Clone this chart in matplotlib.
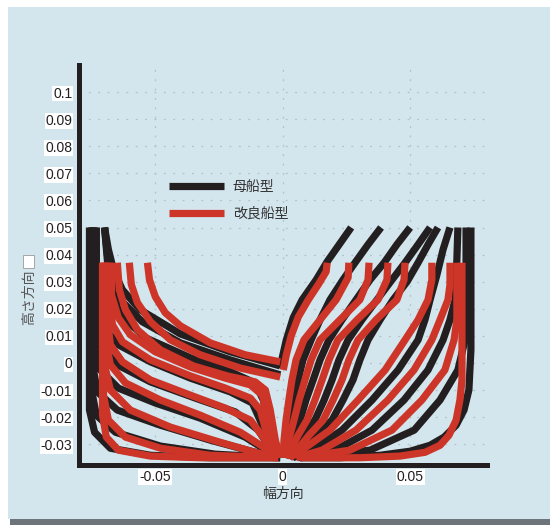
import matplotlib.pyplot as plt
from matplotlib.lines import Line2D
from matplotlib.patches import Rectangle

plt.rcParams['font.family'] = ['Liberation Sans', 'Noto Sans CJK JP']

# --- body plan data (half-breadth x, height z) ---
# stern side (left), parent hull
stern_parent_x = [
    [-0.0698, -0.0683, -0.0663, -0.0628, -0.0558, -0.0401, -0.0205, -0.0010],
    [-0.0698, -0.0687, -0.0671, -0.0636, -0.0550, -0.0401, -0.0205, -0.0010],
    [-0.0698, -0.0687, -0.0675, -0.0636, -0.0538, -0.0362, -0.0205, -0.0108, -0.0076, -0.0057, -0.0025],
    [-0.0730, -0.0730, -0.0710, -0.0644, -0.0518, -0.0362, -0.0205, -0.0119, -0.0080, -0.0029],
    [-0.0737, -0.0737, -0.0718, -0.0648, -0.0518, -0.0342, -0.0186, -0.0096, -0.0025],
    [-0.0741, -0.0741, -0.0722, -0.0644, -0.0499, -0.0323, -0.0147, -0.0018],
    [-0.0745, -0.0745, -0.0726, -0.0648, -0.0479, -0.0284, -0.0108, -0.0010],
    [-0.0749, -0.0749, -0.0730, -0.0655, -0.0479, -0.0264, -0.0010],
    [-0.0757, -0.0757, -0.0737, -0.0675, -0.0518, -0.0284, -0.0010],
]
stern_parent_z = [
    [0.050, 0.0419, 0.0344, 0.0270, 0.0196, 0.0107, 0.0041, -0.0011],
    [0.050, 0.0400, 0.0307, 0.0233, 0.0152, 0.0074, 0.0011, -0.0044],
    [0.050, 0.0381, 0.0270, 0.0178, 0.0093, 0.0019, -0.0033, -0.0074, -0.0137, -0.0230, -0.035],
    [0.050, 0.0233, 0.0141, 0.0067, 0.0004, -0.0056, -0.0107, -0.0148, -0.0230, -0.035],
    [0.050, 0.0159, 0.0067, -0.0007, -0.0070, -0.0130, -0.0181, -0.0248, -0.035],
    [0.050, 0.0085, -0.0019, -0.0093, -0.0148, -0.0204, -0.0274, -0.035],
    [0.050, -0.0007, -0.0107, -0.0174, -0.0230, -0.0285, -0.0330, -0.035],
    [0.050, -0.0100, -0.0193, -0.0256, -0.0307, -0.0337, -0.035],
    [0.050, -0.0174, -0.0256, -0.0315, -0.0341, -0.035, -0.035],
]

# stern side (left), improved hull
stern_new_x = [
    [-0.0530, -0.0522, -0.0499, -0.0460, -0.0401, -0.0284, -0.0147, -0.0010],
    [-0.0601, -0.0593, -0.0569, -0.0518, -0.0440, -0.0323, -0.0166, -0.0010],
    [-0.0648, -0.0640, -0.0616, -0.0569, -0.0479, -0.0350, -0.0217, -0.0108, -0.0068, -0.0049, -0.0029, -0.0010],
    [-0.0671, -0.0671, -0.0644, -0.0597, -0.0499, -0.0362, -0.0225, -0.0127, -0.0080, -0.0057, -0.0033, -0.0014],
    [-0.0679, -0.0679, -0.0667, -0.0628, -0.0518, -0.0362, -0.0225, -0.0127, -0.0088, -0.0061, -0.0022],
    [-0.0687, -0.0687, -0.0675, -0.0628, -0.0518, -0.0362, -0.0225, -0.0127, -0.0068, -0.0022],
    [-0.0694, -0.0694, -0.0675, -0.0616, -0.0479, -0.0323, -0.0166, -0.0068, -0.0018],
    [-0.0698, -0.0698, -0.0675, -0.0597, -0.0440, -0.0245, -0.0108, -0.0018],
    [-0.0702, -0.0702, -0.0683, -0.0616, -0.0479, -0.0284, -0.0018],
    [-0.0706, -0.0706, -0.0691, -0.0644, -0.0518, -0.0323, -0.0018],
]
stern_new_z = [
    [0.037, 0.0307, 0.0244, 0.0185, 0.0137, 0.0074, 0.0030, 0.0004],
    [0.037, 0.0289, 0.0222, 0.0152, 0.0085, 0.0030, -0.0019, -0.0052],
    [0.037, 0.0270, 0.0196, 0.0122, 0.0048, -0.0011, -0.0048, -0.0070, -0.0100, -0.0174, -0.0285, -0.035],
    [0.037, 0.0252, 0.0167, 0.0104, 0.0041, -0.0015, -0.0056, -0.0081, -0.0119, -0.0211, -0.0304, -0.035],
    [0.037, 0.0233, 0.0141, 0.0078, 0.0011, -0.0048, -0.0093, -0.0130, -0.0174, -0.0267, -0.035],
    [0.037, 0.0159, 0.0067, 0.0004, -0.0063, -0.0119, -0.0167, -0.0211, -0.0285, -0.035],
    [0.037, 0.0085, -0.0007, -0.0074, -0.0137, -0.0193, -0.0256, -0.0315, -0.035],
    [0.037, -0.0007, -0.0100, -0.0174, -0.0237, -0.0293, -0.0330, -0.035],
    [0.037, -0.0119, -0.0211, -0.0274, -0.0315, -0.0341, -0.035],
    [0.037, -0.0193, -0.0274, -0.0322, -0.0344, -0.035, -0.035],
]

# bow side (right), parent hull
bow_parent_x = [
    [0.0268, 0.0221, 0.0174, 0.0131, 0.0076, 0.0041, 0.0014, -0.0002, -0.0006],
    [0.0385, 0.0334, 0.0283, 0.0236, 0.0185, 0.0146, 0.0111, 0.0079, 0.0060, 0.0040, 0.0024, 0.0009, 0.0001],
    [0.0499, 0.0447, 0.0397, 0.0342, 0.0287, 0.0232, 0.0181, 0.0146, 0.0119, 0.0091, 0.0068, 0.0044, 0.0028, 0.0009],
    [0.0577, 0.0530, 0.0479, 0.0428, 0.0369, 0.0310, 0.0256, 0.0220, 0.0193, 0.0162, 0.0126, 0.0079, 0.0056, 0.0021],
    [0.0608, 0.0569, 0.0530, 0.0487, 0.0432, 0.0381, 0.0334, 0.0302, 0.0275, 0.0236, 0.0193, 0.0130, 0.0095, 0.0032],
    [0.0655, 0.0628, 0.0604, 0.0577, 0.0557, 0.0530, 0.0452, 0.0350, 0.0232, 0.0115, 0.0040],
    [0.0686, 0.0682, 0.0675, 0.0655, 0.0628, 0.0569, 0.0475, 0.0350, 0.0205, 0.0060],
    [0.0718, 0.0718, 0.0718, 0.0714, 0.0686, 0.0616, 0.0515, 0.0342, 0.0068],
    [0.0737, 0.0737, 0.0737, 0.0729, 0.0710, 0.0679, 0.0632, 0.0577, 0.0499, 0.0381, 0.0224, 0.0068],
]
bow_parent_z = [
    [0.050, 0.0437, 0.0374, 0.0307, 0.0233, 0.0167, 0.0085, 0.0019, -0.0019],
    [0.050, 0.0437, 0.037, 0.0307, 0.0233, 0.0159, 0.0085, 0.0011, -0.0063, -0.0137, -0.0211, -0.0285, -0.035],
    [0.050, 0.0437, 0.037, 0.0307, 0.0233, 0.0159, 0.0085, 0.0011, -0.0063, -0.0137, -0.0211, -0.0267, -0.0304, -0.035],
    [0.050, 0.0437, 0.037, 0.0307, 0.0233, 0.0159, 0.0085, 0.0011, -0.0063, -0.0137, -0.0211, -0.0267, -0.0304, -0.035],
    [0.050, 0.0437, 0.037, 0.0300, 0.0233, 0.0159, 0.0085, 0.0011, -0.0063, -0.0137, -0.0211, -0.0267, -0.0304, -0.035],
    [0.050, 0.0419, 0.0326, 0.0233, 0.0159, 0.0085, -0.0026, -0.0137, -0.0248, -0.0322, -0.035],
    [0.050, 0.0381, 0.0233, 0.0159, 0.0085, -0.0026, -0.0137, -0.0248, -0.0322, -0.035],
    [0.050, 0.0344, 0.0159, 0.0085, -0.0026, -0.0137, -0.0248, -0.0322, -0.035],
    [0.050, 0.0270, 0.0048, -0.0100, -0.0174, -0.0230, -0.0274, -0.0304, -0.0326, -0.0341, -0.035, -0.035],
]

# bow side (right), improved hull
bow_new_x = [
    [0.0174, 0.0170, 0.0139, 0.0100, 0.0061, 0.0033, 0.0014, 0.0002],
    [0.0259, 0.0256, 0.0209, 0.0146, 0.0083, 0.0052, 0.0036, 0.0024, 0.0013, 0.0005, 0.0001],
    [0.0338, 0.0334, 0.0302, 0.0224, 0.0146, 0.0111, 0.0087, 0.0064, 0.0044, 0.0028, 0.0017, 0.0005],
    [0.0412, 0.0408, 0.0373, 0.0291, 0.0216, 0.0181, 0.0154, 0.0126, 0.0095, 0.0060, 0.0040, 0.0013],
    [0.0479, 0.0475, 0.0447, 0.0365, 0.0295, 0.0259, 0.0232, 0.0197, 0.0158, 0.0103, 0.0071, 0.0024],
    [0.0584, 0.0584, 0.0569, 0.0530, 0.0479, 0.0401, 0.0295, 0.0185, 0.0075, 0.0028],
    [0.0655, 0.0655, 0.0647, 0.0616, 0.0584, 0.0514, 0.0412, 0.0287, 0.0154, 0.0052],
    [0.0682, 0.0682, 0.0682, 0.0671, 0.0635, 0.0545, 0.0428, 0.0263, 0.0068],
    [0.0702, 0.0702, 0.0702, 0.0694, 0.0679, 0.0651, 0.0616, 0.0557, 0.0459, 0.0302, 0.0068],
]
bow_new_z = [
    [0.037, 0.0337, 0.0289, 0.0233, 0.0170, 0.0100, 0.0030, -0.0026],
    [0.037, 0.0315, 0.0233, 0.0159, 0.0085, 0.0011, -0.0063, -0.0137, -0.0211, -0.0285, -0.035],
    [0.037, 0.0307, 0.0233, 0.0159, 0.0085, 0.0011, -0.0063, -0.0137, -0.0211, -0.0267, -0.0304, -0.035],
    [0.037, 0.0307, 0.0233, 0.0159, 0.0085, 0.0011, -0.0063, -0.0137, -0.0211, -0.0267, -0.0304, -0.035],
    [0.037, 0.0307, 0.0233, 0.0159, 0.0085, 0.0011, -0.0063, -0.0137, -0.0211, -0.0267, -0.0304, -0.035],
    [0.037, 0.0307, 0.0233, 0.0159, 0.0085, -0.0026, -0.0137, -0.0248, -0.0322, -0.035],
    [0.037, 0.0289, 0.0233, 0.0159, 0.0085, -0.0026, -0.0137, -0.0248, -0.0322, -0.035],
    [0.037, 0.0233, 0.0159, 0.0085, -0.0026, -0.0137, -0.0248, -0.0322, -0.035],
    [0.037, 0.0122, -0.0063, -0.0137, -0.0211, -0.0267, -0.0304, -0.0330, -0.0344, -0.035, -0.035],
]

yticks = [-0.03, -0.02, -0.01, 0, 0.01, 0.02, 0.03, 0.04, 0.05, 0.06, 0.07, 0.08, 0.09, 0.1]
ytick_labels = ['-0.03', '-0.02', '-0.01', '0', '0.01', '0.02', '0.03', '0.04',
                '0.05', '0.06', '0.07', '0.08', '0.09', '0.1']
xticks = [-0.05, 0, 0.05]
xtick_labels = ['-0.05', '0', '0.05']
series_labels = ['母船型', '改良船型']

BLACK = '#231f20'
RED = '#cc3528'
BG = '#d3e5ed'
LW = 5.2

fig = plt.figure(figsize=(5.5, 5.25), dpi=100, facecolor='white')
# panel background + shadow
fig.patches.append(Rectangle((10 / 550, 0), 1, 6 / 525, transform=fig.transFigure,
                             facecolor='#6d757a', edgecolor='none', zorder=-3))
fig.patches.append(Rectangle((8 / 550, 6 / 525), 1, 1 - 13 / 525, transform=fig.transFigure,
                             facecolor=BG, edgecolor='none', zorder=-2))

ax = fig.add_axes([78.5 / 550, 1 - 464.5 / 525, 408.5 / 550, 399.5 / 525])
ax.set_facecolor('none')

for xs, zs in zip(stern_parent_x + bow_parent_x, stern_parent_z + bow_parent_z):
    ax.plot(xs, zs, color=BLACK, lw=LW, solid_capstyle='butt', solid_joinstyle='round')
for xs, zs in zip(stern_new_x + bow_new_x, stern_new_z + bow_new_z):
    ax.plot(xs, zs, color=RED, lw=LW, solid_capstyle='butt', solid_joinstyle='round')

ax.set_xlim(-0.08, 0.08)
ax.set_ylim(-0.0375, 0.11)
ax.set_xticks(xticks)
ax.set_xticklabels(xtick_labels)
ax.set_yticks(yticks)
ax.set_yticklabels(ytick_labels)
ax.tick_params(length=0, labelsize=10, labelcolor=BLACK)
ax.tick_params(axis='y', pad=4.5)
ax.tick_params(axis='x', pad=4)
for lbl in ax.get_xticklabels() + ax.get_yticklabels():
    lbl.set_bbox(dict(facecolor='white', edgecolor='none', pad=0.6))

ax.grid(True, color='#b3c1c8', lw=0.9, linestyle=(0, (1.5, 6)))
ax.set_axisbelow(True)
for side in ['top', 'right']:
    ax.spines[side].set_visible(False)
for side in ['left', 'bottom']:
    ax.spines[side].set_color(BLACK)
    ax.spines[side].set_linewidth(3.6)

handles = [Line2D([], [], color=BLACK, lw=LW, solid_capstyle='butt'),
           Line2D([], [], color=RED, lw=LW, solid_capstyle='butt')]
ax.legend(handles, series_labels, loc='upper left', bbox_to_anchor=(0.2215, 0.7125),
          frameon=False, fontsize=10, handlelength=3.95, handletextpad=0.65,
          labelspacing=0.95, borderpad=0, borderaxespad=0, labelcolor='#333333')

fig.text(282.5 / 550, 1 - 494 / 525, '幅方向', ha='center', va='center',
         fontsize=10, color='#333333')
fig.text(29 / 550, 1 - 297 / 525, '高さ方向', ha='center', va='center',
         rotation=90, fontsize=10, color='#555555')
fig.patches.append(Rectangle((23 / 550, 1 - 268 / 525), 11 / 550, 13 / 525,
                             transform=fig.transFigure, facecolor='white',
                             edgecolor='#999999', lw=0.6))

fig.savefig('out.png', dpi=100, facecolor=fig.get_facecolor())
